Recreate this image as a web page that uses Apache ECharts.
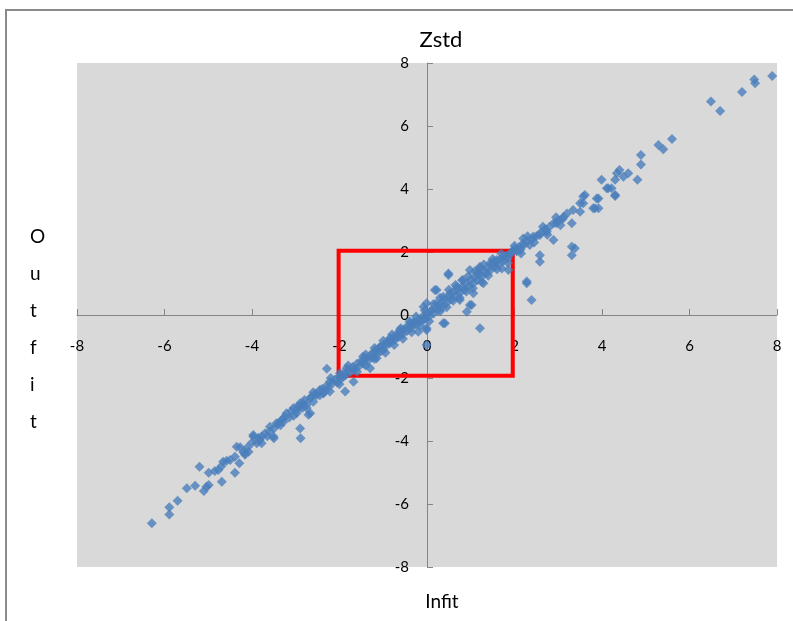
<!DOCTYPE html>
<html>
<head>
<meta charset="utf-8">
<script src="https://cdn.jsdelivr.net/npm/echarts@6/dist/echarts.min.js"></script>
<style>html,body{margin:0;padding:0;background:#fff}#c{width:793px;height:621px}</style>
</head>
<body>
<div id="c"></div>
<script>
// Infit Zstd (x) vs Outfit Zstd (y)
var lowerPoints = [
  [-6.29,-6.61],[-5.89,-6.10],[-5.89,-6.33],[-5.70,-5.90],[-5.49,-5.50],[-5.30,-5.42],
  [-5.20,-4.82],[-4.99,-5.01],[-5.04,-5.45],[-5.10,-5.59],[-4.99,-5.40],[-4.77,-4.92],
  [-4.69,-5.29],[-4.66,-4.66],[-4.58,-4.63],[-4.39,-4.50],[-4.39,-5.01],[-4.29,-4.71],
  [-4.27,-4.20],[-4.16,-4.44],[-4.08,-4.34],[-3.97,-3.86],[-3.89,-4.07],[-3.78,-3.86],
  [-3.78,-4.07],[-3.50,-3.91],[-3.59,-3.55],[-3.44,-3.44],[-3.28,-3.39],[-3.25,-3.23],
  [-3.21,-3.12],[-2.98,-3.12],[-2.90,-2.91],[-2.83,-2.80],[-2.90,-3.60],[-2.89,-3.91],
  [-2.67,-3.12],[-2.67,-2.64],[-2.52,-2.54],[-2.37,-2.49],[-2.22,-2.43],[-1.87,-2.43],
  [-4.35,-4.18],[-4.16,-4.38],[-3.97,-3.81],[-3.82,-3.97],[-3.51,-3.86],[-3.36,-3.39],
  [-2.98,-3.02],[-2.90,-2.80],[-2.71,-3.17],[-2.45,-2.38],[-2.22,-2.12],[-2.29,-1.71],
  [-3.3,-3.3],[-3.4,-3.45],[-3.5,-3.6],[-3.6,-3.7],[-3.7,-3.75],[-3.85,-3.9],
  [-4.0,-4.05],[-4.1,-4.2],[-4.2,-4.35],[-4.5,-4.6],[-4.7,-4.8],[-4.85,-4.95],
  [-3.15,-3.25],[-3.35,-3.5],[-3.65,-3.85],[-3.05,-2.95],[-2.75,-2.95],[-2.6,-2.45]
];
var centerPoints = [
  [-1.91,-1.96],[-1.68,-1.75],[-1.46,-1.48],[-1.30,-1.69],[-1.15,-1.37],[-1.00,-1.11],
  [-0.85,-0.90],[-0.69,-0.69],[-0.54,-0.48],[-0.31,-0.26],[-0.20,-0.53],[-0.08,-0.16],
  [-0.08,0.26],[-0.01,0.37],[-1.99,-1.85],[-1.84,-1.69],[-1.68,-2.12],[-1.46,-1.32],
  [-1.23,-1.22],[-1.07,-1.01],[-0.85,-0.74],[-0.62,-0.48],[-0.39,-0.26],[-0.01,-0.48],
  [-0.01,-0.95],[0.07,0.10],[0.22,0.37],[0.37,0.58],[0.41,-0.26],[0.53,0.69],
  [0.22,0.79],[0.49,1.32],[0.68,0.90],[0.75,0.48],[0.91,0.10],[0.98,0.32],
  [0.83,1.11],[1.06,0.69],[1.14,1.32],[1.21,1.53],[1.29,1.01],[1.21,-0.42],
  [1.44,1.64],[1.59,1.75],[1.74,1.85],[1.90,1.96],[2.05,2.06],[2.20,2.28],
  [2.28,1.06],[-0.01,-0.42],[0.37,-0.26],[1.02,0.32],[0.18,0.79],[0.49,1.27],
  [0.98,1.43],[1.21,1.48],[1.52,1.69],[1.71,1.48],[1.86,1.43],[1.82,1.85]
];
var bandPoints = [
  [-3.1,-3.05],[-3.05,-3.2],[-2.95,-2.9],[-2.85,-2.95],[-2.8,-2.7],[-2.75,-2.85],
  [-2.65,-2.6],[-2.6,-2.75],[-2.55,-2.5],[-2.45,-2.55],[-2.4,-2.35],[-2.35,-2.45],
  [-2.3,-2.25],[-2.25,-2.3],[-2.15,-2.15],[-2.1,-2.05],[-2.05,-2.15],[-2.0,-1.95],
  [-1.95,-2.0],[-1.9,-1.85],[-1.85,-1.9],[-1.8,-1.75],[-1.75,-1.8],[-1.7,-1.65],
  [-1.65,-1.72],[-1.6,-1.55],[-1.55,-1.62],[-1.5,-1.45],[-1.45,-1.55],[-1.4,-1.38],
  [-1.35,-1.45],[-1.3,-1.28],[-1.25,-1.35],[-1.2,-1.15],[-1.15,-1.25],[-1.1,-1.05],
  [-1.05,-1.15],[-1.0,-0.95],[-0.95,-1.0],[-0.9,-0.85],[-0.85,-0.82],[-0.8,-0.75],
  [-0.75,-0.8],[-0.7,-0.62],[-0.65,-0.7],[-0.6,-0.55],[-0.55,-0.6],[-0.5,-0.42],
  [-0.45,-0.5],[-0.4,-0.35],[-0.35,-0.4],[-0.3,-0.22],[-0.25,-0.3],[-0.2,-0.15],
  [-0.15,-0.2],[-0.1,-0.05],[-0.05,-0.12],[0,0.05],[0.05,-0.05],[0.1,0.15],
  [0.15,0.05],[0.2,0.25],[0.25,0.15],[0.3,0.35],[0.35,0.25],[0.4,0.5],
  [0.45,0.38],[0.5,0.6],[0.55,0.5],[0.6,0.72],[0.65,0.6],[0.7,0.82],
  [0.75,0.7],[0.8,0.9],[0.85,0.8],[0.9,1.0],[0.95,0.9],[1.0,1.12],
  [1.05,1.0],[1.1,1.2],[1.15,1.1],[1.2,1.3],[1.25,1.22],[1.3,1.4],
  [1.35,1.32],[1.4,1.5],[1.45,1.42],[1.5,1.6],[1.55,1.52],[1.6,1.7],
  [1.65,1.62],[1.7,1.8],[1.75,1.72],[1.8,1.88],[1.85,1.8],[1.9,1.95],
  [1.95,2.0],[2.0,2.1],[2.05,2.02],[2.1,2.15],[2.2,2.2],[2.3,2.35],
  [2.4,2.4],[2.5,2.5],[2.6,2.62],[2.7,2.72],[2.8,2.8],[2.9,2.92],
  [3.0,3.0],[3.1,3.05],[3.2,3.22]
];
var bandEdgePoints = [
  [-2.2,-2.0],[-2.0,-2.2],[-1.8,-1.6],[-1.6,-1.8],[-1.4,-1.25],[-1.4,-1.6],
  [-1.2,-1.05],[-1.2,-1.4],[-1.0,-0.82],[-0.95,-1.2],[-0.8,-0.62],[-0.75,-0.95],
  [-0.6,-0.42],[-0.55,-0.75],[-0.4,-0.2],[-0.35,-0.55],[-0.25,-0.05],[-0.15,-0.35],
  [-0.05,0.15],[0.05,-0.2],[0.15,0.35],[0.3,0.12],[0.3,0.55],[0.45,0.25],
  [0.5,0.8],[0.6,0.45],[0.65,0.95],[0.75,0.55],[0.8,1.1],[0.9,0.75],
  [0.95,1.25],[1.05,0.85],[1.1,1.4],[1.25,1.05],[1.3,1.6],[1.4,1.25],
  [1.5,1.78],[1.6,1.45],[1.7,1.95],[1.85,1.65],[2.0,2.2],[2.15,1.95],
  [2.3,2.5],[2.45,2.3],[2.65,2.8],[2.75,2.55],[2.95,3.1],[3.05,2.85]
];
var upperPoints = [
  [2.13,2.06],[2.20,2.43],[2.35,2.22],[2.43,2.49],[2.58,2.54],[2.74,2.64],
  [2.89,2.38],[2.58,1.90],[2.58,1.69],[2.28,1.01],[2.39,0.48],[2.96,2.91],
  [3.12,3.12],[3.31,2.91],[3.31,2.17],[3.38,2.12],[3.31,1.90],[3.34,3.33],
  [3.50,3.55],[3.57,3.76],[3.84,3.39],[3.92,3.70],[3.99,4.29],[4.14,4.02],
  [4.30,3.81],[4.34,4.50],[3.50,3.28],[3.57,3.55],[3.61,3.81],[3.80,3.39],
  [3.92,3.39],[3.88,3.70],[4.11,4.02],[4.22,4.02],[4.30,3.78],[4.30,4.29],
  [4.40,4.60],[4.49,4.39],[4.60,4.50],[4.81,4.29],[4.89,4.78],[4.89,5.08],
  [5.29,5.40],[5.40,5.26],[5.60,5.59],[6.49,6.78],[6.70,6.48],[7.20,7.08],
  [7.48,7.48],[7.50,7.36],[7.89,7.59]
];
var tickLabels = ['-8','-6','-4','-2','0','2','4','6','8'];
var boxCorners = [[-2.02,-1.93],[1.96,2.04]];

var allPoints = lowerPoints.concat(bandPoints, bandEdgePoints, centerPoints, upperPoints);
var font = 'Lato, "Liberation Sans", sans-serif';
var chart = echarts.init(document.getElementById('c'), null, {renderer:'canvas'});
chart.setOption({
  backgroundColor: '#ffffff',
  animation: false,
  title: [{
    text: 'Zstd', left: 436, top: 24, textAlign: 'center',
    textStyle: {fontFamily: font, fontSize: 22, fontWeight: 'normal', color: '#000'}
  }, {
    text: 'Infit', left: 437, top: 587, textAlign: 'center',
    textStyle: {fontFamily: font, fontSize: 19, fontWeight: 'normal', color: '#000'}
  }],
  graphic: [{
    type: 'polyline', silent: true,
    shape: {points: [[6, 640], [6, 10], [800, 10]]},
    style: {stroke: '#8a8a8a', lineWidth: 2, fill: null}
  }, {
    type: 'text', left: 30, top: 218, silent: true,
    style: {text: 'O\nu\nt\nf\ni\nt', fontFamily: font, fontSize: 19, lineHeight: 37, align: 'center', fill: '#000'}
  }],
  grid: {left: 77, right: 16, top: 63, bottom: 54, show: true, backgroundColor: '#D9D9D9', borderWidth: 0},
  xAxis: {
    type: 'value', min: -8, max: 8, interval: 2, position: 'bottom', offset: -252,
    axisLine: {onZero: false, lineStyle: {color: '#868686', width: 1}},
    axisTick: {show: true, inside: true, length: 6, lineStyle: {color: '#868686'}},
    splitLine: {show: false},
    axisLabel: {margin: 24, fontFamily: font, fontSize: 15, color: '#000',
      formatter: function (v) { return tickLabels[(v + 8) / 2]; }}
  },
  yAxis: {
    type: 'value', min: -8, max: 8, interval: 2, position: 'left', offset: -350,
    axisLine: {onZero: false, lineStyle: {color: '#868686', width: 1}},
    axisTick: {show: true, inside: true, length: 6, lineStyle: {color: '#868686'}},
    splitLine: {show: false},
    axisLabel: {margin: 18, fontFamily: font, fontSize: 15, color: '#000',
      formatter: function (v) { return tickLabels[(v + 8) / 2]; }}
  },
  series: [{
    type: 'scatter',
    data: allPoints,
    symbol: 'diamond',
    symbolSize: 10,
    itemStyle: {color: '#4A7EBB'},
    z: 3
  }, {
    type: 'line',
    data: [],
    markArea: {
      silent: true,
      itemStyle: {color: 'rgba(0,0,0,0)', borderColor: '#FF0000', borderWidth: 4},
      data: [[{coord: boxCorners[0]}, {coord: boxCorners[1]}]]
    },
    z: 4
  }]
});
</script>
</body>
</html>
